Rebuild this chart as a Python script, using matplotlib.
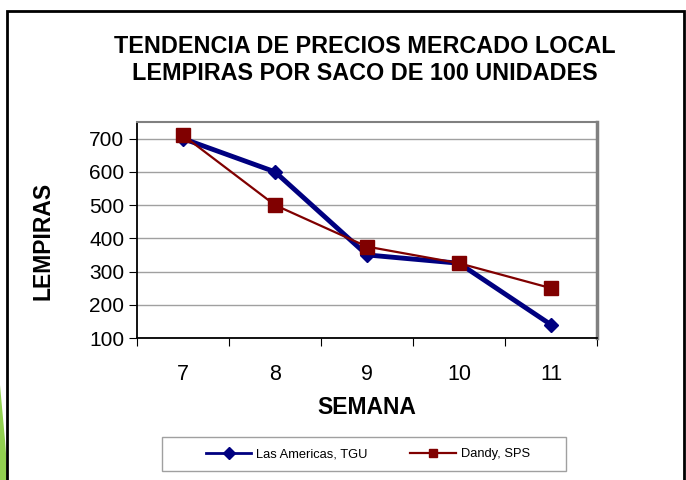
import numpy as np
import matplotlib.pyplot as plt
from matplotlib.patches import Rectangle, Polygon

plt.rcParams['font.family'] = ['Liberation Sans', 'DejaVu Sans']

semanas = ["7", "8", "9", "10", "11"]
las_americas = [700, 600, 350, 325, 140]
dandy = [710, 500, 375, 325, 250]

fig = plt.figure(figsize=(6.86, 4.8), dpi=100)
fig.patch.set_facecolor("white")

# outer frame of the chart object + slide decoration
fig.patches.append(Rectangle((7 / 686, -0.05), 677 / 686, 1 - 11 / 480 + 0.05,
                             transform=fig.transFigure, fill=False,
                             edgecolor="black", lw=2, zorder=5))
fig.patches.append(Polygon([(0, 95 / 480), (0, 0), (8 / 686, 0), (5 / 686, 40 / 480)],
                           closed=True, transform=fig.transFigure,
                           facecolor="#92D050", edgecolor="none", zorder=1))

ax = fig.add_axes([137 / 686, 1 - 338 / 480, 460 / 686, 216 / 480])
x = np.arange(1, len(semanas) + 1)

ax.plot(x, las_americas, color="#000080", lw=3.5, marker="D", ms=7,
        label="Las Americas, TGU", zorder=3)
ax.plot(x, dandy, color="#800000", lw=1.6, marker="s", ms=10,
        label="Dandy, SPS", zorder=4)

ax.set_xlim(0.5, len(semanas) + 0.5)
ax.set_ylim(100, 750)
ax.set_yticks(range(100, 800, 100))
ax.set_xticks(np.arange(0.5, len(semanas) + 1, 1))
ax.set_xticklabels([])
ax.set_xticks(x, minor=True)
ax.set_xticklabels(semanas, minor=True)
ax.tick_params(axis="x", which="minor", length=0, labelsize=15.5, pad=19)
ax.tick_params(axis="x", which="major", length=6, direction="out", color="black")
ax.tick_params(axis="y", length=6, direction="out", labelsize=15, pad=3)

ax.grid(axis="y", color="#A0A0A0", lw=1)
ax.set_axisbelow(True)
for s in ["top", "right"]:
    ax.spines[s].set_color("#808080")
ax.spines["right"].set_linewidth(2.5)
ax.spines["top"].set_linewidth(1.5)
ax.spines["left"].set_linewidth(1.3)
ax.spines["bottom"].set_linewidth(1.3)

ax.set_xlabel("SEMANA", fontsize=16.5, fontweight="bold", labelpad=8)
ax.set_ylabel("LEMPIRAS", fontsize=16.5, fontweight="bold")
ax.yaxis.set_label_coords(-0.18, 0.45)

fig.text(365 / 686, 1 - 60 / 480, "TENDENCIA DE PRECIOS MERCADO LOCAL\nLEMPIRAS POR SACO DE 100 UNIDADES",
         ha="center", va="center", fontsize=16.8, fontweight="bold", linespacing=1.2)

# legend box drawn separately (wider side padding than matplotlib's borderpad)
fig.patches.append(Rectangle((162 / 686, 1 - 471 / 480), 404 / 686, 34 / 480,
                             transform=fig.transFigure, fill=False,
                             edgecolor="#A0A0A0", lw=1, zorder=2))
leg = fig.legend(loc="center", bbox_to_anchor=(368 / 686, 1 - 454 / 480), ncol=2,
                 fontsize=9.3, frameon=False, columnspacing=3.3,
                 handlelength=3.5, handletextpad=0.4)
for h in leg.legend_handles:
    h.set_markersize(6)
leg.legend_handles[0].set_linewidth(2)

fig.savefig("out.png", dpi=100, facecolor="white")
